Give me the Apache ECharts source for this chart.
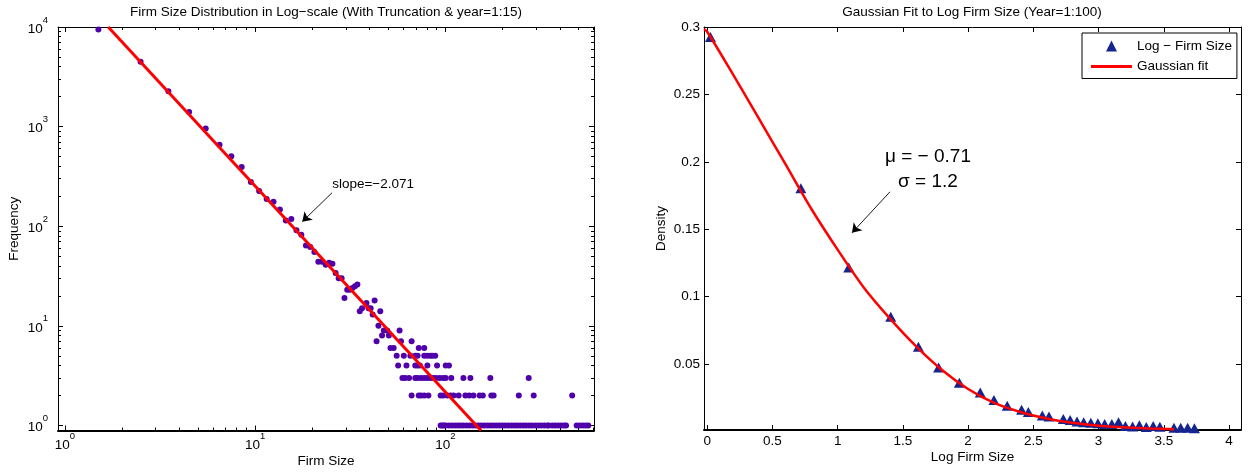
<!DOCTYPE html>
<html>
<head>
<meta charset="utf-8">
<script src="https://cdn.jsdelivr.net/npm/echarts@6/dist/echarts.min.js"></script>
<style>
html, body { margin: 0; padding: 0; background: #ffffff; }
#chart { width: 1248px; height: 474px; }
</style>
</head>
<body>
<div id="chart"></div>
<script>
// ---------------- Left panel data: firm size histogram (log-log) ----------------
const firmSize = [
  1.5, 2.5, 3.5, 4.5, 5.5, 6.5, 7.5, 8.5, 9.5, 10.5, 11.5, 12.5, 13.5, 14.5, 15.5, 16.5, 17.5, 18.5, 19.5, 20.5,
  21.5, 22.5, 23.5, 24.5, 25.5, 26.5, 27.5, 28.5, 29.5, 30.5, 31.5, 32.5, 33.5, 34.5, 35.5, 36.5, 38.5, 39.5, 40.5, 41.5,
  42.5, 43.5, 44.5, 45.5, 46.5, 47.5, 49.5, 50.5, 51.5, 53.5, 57.5, 58.5, 66.5,
  72.5, 77.5,
  55.5, 60.5, 65.5, 69.5, 71.5, 77.5, 80.5, 83.5, 85.5, 88.5,
  56.5, 62.5, 69.5, 71.5, 73.5, 80.5, 90.5, 100.5, 104.5,
  59.5, 61.5, 64.5, 69.5, 71.5, 74.5, 77.5, 80.5, 83.5, 86.5, 89.5, 93.5, 97.5, 100.5, 107.5, 124.5, 135.5, 172.5, 274.5,
  66.5, 72.5, 74.5, 77.5, 81.5, 94.5, 97.5, 102.5, 106.5, 110.5, 117.5, 127.5, 133.5, 140.5, 151.5, 157.5, 174.5, 179.5, 243.5, 291.5, 464.5,
  94.5, 96.5, 98.5, 100.5, 104.5, 108.5, 112.5, 116.5, 120.5, 124.5, 129.5, 134.5, 139.5, 144.5, 149.5, 154.5, 160.5, 166.5, 172.5, 178.5,
  185.5, 192.5, 199.5, 206.5, 214.5, 222.5, 230.5, 238.5, 247.5, 256.5, 265.5, 275.5, 285.5, 297.5, 308.5, 319.5, 331.5, 343.5, 350.5,
  365.5, 378.5, 392.5, 406.5, 420.5, 431.5, 490.5, 508.5, 527.5, 546.5, 564.5
];
const frequency = [
  9440, 4470, 2265, 1405, 955, 659, 503, 393, 278, 226, 188, 176, 147, 114, 118, 91, 82, 64, 62, 55,
  44, 44, 41, 43, 42, 34, 30, 30, 19, 23, 23, 24, 25, 26, 14, 15, 17, 15, 15, 13,
  18, 7, 10, 14, 8, 9, 9, 8, 6, 6, 9, 7, 7,
  6, 6,
  5, 5, 5, 5, 5, 5, 5, 5, 5, 5,
  4, 4, 4, 4, 4, 4, 4, 4, 4,
  3, 3, 3, 3, 3, 3, 3, 3, 3, 3, 3, 3, 3, 3, 3, 3, 3, 3, 3,
  2, 2, 2, 2, 2, 2, 2, 2, 2, 2, 2, 2, 2, 2, 2, 2, 2, 2, 2, 2, 2,
  1, 1, 1, 1, 1, 1, 1, 1, 1, 1, 1, 1, 1, 1, 1, 1, 1, 1, 1, 1,
  1, 1, 1, 1, 1, 1, 1, 1, 1, 1, 1, 1, 1, 1, 1, 1, 1, 1, 1,
  1, 1, 1, 1, 1, 1, 1, 1, 1, 1, 1
];
// fitted power-law line end points (slope = -2.071)
const fitLineX = [1.69, 154];
const fitLineY = [10000, 0.89];

const logMajorX = [1, 10, 100];
const logMinorX = [2, 3, 4, 5, 6, 7, 8, 9, 20, 30, 40, 50, 60, 70, 80, 90, 200, 300, 400, 500, 600];
const logMajorY = [1, 10, 100, 1000, 10000];
const logMinorY = [2, 3, 4, 5, 6, 7, 8, 9, 20, 30, 40, 50, 60, 70, 80, 90, 200, 300, 400, 500, 600, 700, 800, 900,
                   2000, 3000, 4000, 5000, 6000, 7000, 8000, 9000];

// ---------------- Right panel data: density of log firm size ----------------
const logFirmSize = [0.025, 0.718, 1.085, 1.407, 1.619, 1.774, 1.933, 2.093, 2.198, 2.30, 2.41, 2.462, 2.569, 2.62,
  2.73, 2.782, 2.835, 2.886, 2.941, 2.995, 3.047, 3.102, 3.153, 3.206, 3.261, 3.313, 3.366, 3.419, 3.47,
  3.578, 3.63, 3.683, 3.735];
const density = [0.2925, 0.1804, 0.1215, 0.085, 0.0627, 0.0473, 0.0361, 0.0289, 0.0233, 0.019, 0.016, 0.0143, 0.0117, 0.011,
  0.0092, 0.0084, 0.0073, 0.0068, 0.0064, 0.006, 0.0054, 0.0054, 0.0068, 0.0039, 0.0036, 0.0046, 0.0032, 0.0039, 0.0034,
  0.0027, 0.0026, 0.0026, 0.0023];
// Gaussian fit curve
const gaussX = [-0.0245, 0, 0.2, 0.4, 0.6, 0.8, 1.0, 1.2, 1.4, 1.6, 1.8, 2.0, 2.2, 2.4, 2.6, 2.8, 3.0, 3.2, 3.4, 3.58];
const gaussY = [0.2985, 0.2965, 0.2645, 0.2315, 0.1982, 0.1648, 0.1348, 0.1068, 0.0838, 0.0632, 0.0455, 0.0314, 0.0211, 0.0144, 0.0096, 0.0063, 0.0042, 0.0030, 0.0021, 0.0016];

const linTicksX = [0, 0.5, 1, 1.5, 2, 2.5, 3, 3.5, 4];
const linTicksY = [0.05, 0.1, 0.15, 0.2, 0.25, 0.3];

// ---------------- Annotation anchors (data coordinates) ----------------
const slopeText = 'slope=\u22122.071';
const slopeTextAt = [25.43, 261];
const slopeArrowFrom = [25.4, 217];
const slopeArrowTo = [17.7, 111];
const fitText = '\u03bc = \u2212 0.71\n\u03c3 = 1.2';
const fitTextAt = [1.6925, 0.1944];
const fitArrowFrom = [1.401, 0.1777];
const fitArrowTo = [1.11, 0.1473];

// ---------------- Styling ----------------
const FONT = "'Liberation Sans', Arial, Helvetica, sans-serif";
const BLACK = '#000000';
const FS = 13.5;
const DOT_COLOR = '#5000aa';
const TRI_COLOR = '#152590';
const FIT_COLOR = '#ff0000';

function powLabel(v) { return '{b|10}{s|' + Math.round(Math.log10(v)) + '}'; }
const powRich = {
  b: { fontFamily: FONT, fontSize: FS, color: BLACK, verticalAlign: 'bottom', lineHeight: 21 },
  s: { fontFamily: FONT, fontSize: 9.5, color: BLACK, verticalAlign: 'top' }
};

function baseAxis(type, grid, position, min, max) {
  return {
    type: type, gridIndex: grid, position: position, min: min, max: max,
    splitLine: { show: false },
    axisLine: { show: false, onZero: false },
    axisLabel: { show: false },
    axisTick: { show: false },
    axisPointer: { show: false },
    silent: true
  };
}
function withTicks(ax, values, len) {
  ax.axisTick = { show: true, inside: true, length: len, lineStyle: { color: BLACK, width: 1 }, customValues: values };
  return ax;
}
function withLine(ax, width) {
  ax.axisLine = { show: true, onZero: false, lineStyle: { color: BLACK, width: width } };
  return ax;
}

const LX = [0.92, 605], LY = [0.89, 10000];
const RX = [-0.0245, 4.092], RY = [0.001, 0.3];

// Left panel axes
const xL0 = withLine(withTicks(baseAxis('log', 0, 'bottom', LX[0], LX[1]), logMajorX, 5), 2);
xL0.axisLabel = { show: true, customValues: logMajorX, formatter: powLabel, rich: powRich, margin: 1 };
xL0.name = 'Firm Size'; xL0.nameLocation = 'middle'; xL0.nameGap = 23.5; xL0.nameMoveOverlap = false;
xL0.nameTextStyle = { fontFamily: FONT, fontSize: FS, color: BLACK };
const xL1 = withTicks(baseAxis('log', 0, 'bottom', LX[0], LX[1]), logMinorX, 3);
const xL2 = withLine(withTicks(baseAxis('log', 0, 'top', LX[0], LX[1]), logMajorX, 5), 1);
const xL3 = withTicks(baseAxis('log', 0, 'top', LX[0], LX[1]), logMinorX, 3);

const yL0 = withLine(withTicks(baseAxis('log', 0, 'left', LY[0], LY[1]), logMajorY, 5), 1);
yL0.axisLabel = { show: true, customValues: logMajorY, formatter: powLabel, rich: powRich, margin: 10, padding: [0, 0, 3, 0] };
yL0.name = 'Frequency'; yL0.nameLocation = 'middle'; yL0.nameGap = 36.5; yL0.nameRotate = 90; yL0.nameMoveOverlap = false;
yL0.nameTextStyle = { fontFamily: FONT, fontSize: FS, color: BLACK };
const yL1 = withTicks(baseAxis('log', 0, 'left', LY[0], LY[1]), logMinorY, 3);
const yL2 = withLine(withTicks(baseAxis('log', 0, 'right', LY[0], LY[1]), logMajorY, 5), 1);
const yL3 = withTicks(baseAxis('log', 0, 'right', LY[0], LY[1]), logMinorY, 3);

// Right panel axes
const xR0 = withLine(withTicks(baseAxis('value', 1, 'bottom', RX[0], RX[1]), linTicksX, 5), 2);
xR0.axisLabel = { show: true, customValues: linTicksX, margin: 4, fontFamily: FONT, fontSize: FS, color: BLACK };
xR0.name = 'Log Firm Size'; xR0.nameLocation = 'middle'; xR0.nameGap = 20.5; xR0.nameMoveOverlap = false;
xR0.nameTextStyle = { fontFamily: FONT, fontSize: FS, color: BLACK };
const xR1 = withLine(withTicks(baseAxis('value', 1, 'top', RX[0], RX[1]), linTicksX, 5), 1);

const yR0 = withLine(withTicks(baseAxis('value', 1, 'left', RY[0], RY[1]), linTicksY, 5), 1);
yR0.axisLabel = { show: true, customValues: linTicksY, margin: 4, fontFamily: FONT, fontSize: FS, color: BLACK };
yR0.name = 'Density'; yR0.nameLocation = 'middle'; yR0.nameGap = 36; yR0.nameRotate = 90; yR0.nameMoveOverlap = false;
yR0.nameTextStyle = { fontFamily: FONT, fontSize: FS, color: BLACK };
const yR1 = withLine(withTicks(baseAxis('value', 1, 'right', RY[0], RY[1]), linTicksY, 5), 1);

const option = {
  animation: false,
  backgroundColor: '#ffffff',
  title: [
    { text: 'Firm Size Distribution in Log\u2212scale (With Truncation & year=1:15)', left: 326, top: 5, padding: 0, textAlign: 'center',
      textStyle: { fontFamily: FONT, fontSize: FS, fontWeight: 'normal', color: BLACK } },
    { text: 'Gaussian Fit to Log Firm Size (Year=1:100)', left: 972, top: 5, padding: 0, textAlign: 'center',
      textStyle: { fontFamily: FONT, fontSize: FS, fontWeight: 'normal', color: BLACK } }
  ],
  legend: {
    data: [
      { name: 'Log \u2212 Firm Size', icon: 'path://M5,0 L10,10 L0,10 Z', itemStyle: { color: TRI_COLOR, opacity: 1 } },
      { name: 'Gaussian fit', icon: 'path://M0,0 L40,0 L40,3 L0,3 Z', itemStyle: { color: FIT_COLOR, opacity: 1 } }
    ],
    symbolKeepAspect: true,
    orient: 'vertical', left: 1082, top: 33, padding: [6, 5, 5, 9],
    itemWidth: 41, itemHeight: 11, itemGap: 6.5,
    borderColor: BLACK, borderWidth: 1, backgroundColor: '#ffffff',
    selectedMode: false,
    textStyle: { fontFamily: FONT, fontSize: FS, color: BLACK }
  },
  grid: [
    { left: 58, top: 27, width: 536, height: 403.5, containLabel: false, outerBoundsMode: 'none' },
    { left: 704, top: 27, width: 537, height: 403, containLabel: false, outerBoundsMode: 'none' }
  ],
  xAxis: [xL0, xL1, xL2, xL3, xR0, xR1],
  yAxis: [yL0, yL1, yL2, yL3, yR0, yR1],
  series: [
    {
      type: 'scatter', name: 'Firm Size', xAxisIndex: 0, yAxisIndex: 0,
      data: firmSize.map((x, i) => [x, frequency[i]]),
      symbol: 'circle', symbolSize: 6,
      itemStyle: { color: DOT_COLOR, opacity: 1 }, z: 2, silent: true
    },
    {
      type: 'line', name: 'Power-law fit', xAxisIndex: 0, yAxisIndex: 0,
      data: fitLineX.map((x, i) => [x, fitLineY[i]]),
      symbol: 'none', clip: true,
      lineStyle: { color: FIT_COLOR, width: 3 }, z: 3, silent: true,
      markLine: {
        silent: true, symbol: ['none', 'arrow'], symbolSize: 9,
        lineStyle: { color: BLACK, width: 0.9, type: 'solid' },
        label: { show: false },
        data: [[{ coord: slopeArrowFrom }, { coord: slopeArrowTo }]]
      },
      markPoint: {
        silent: true, symbol: 'circle', symbolSize: 0,
        label: { show: true, position: 'right', distance: 0, formatter: slopeText,
                 fontFamily: FONT, fontSize: FS, color: BLACK },
        data: [{ coord: slopeTextAt }]
      }
    },
    {
      type: 'scatter', name: 'Log \u2212 Firm Size', xAxisIndex: 4, yAxisIndex: 4,
      data: logFirmSize.map((x, i) => [x, density[i]]),
      symbol: 'triangle', symbolSize: [11, 10],
      itemStyle: { color: TRI_COLOR, opacity: 1 }, z: 2, silent: true
    },
    {
      type: 'line', name: 'Gaussian fit', xAxisIndex: 4, yAxisIndex: 4,
      data: gaussX.map((x, i) => [x, gaussY[i]]),
      symbol: 'none', showSymbol: false, smooth: 0.3, clip: true,
      lineStyle: { color: FIT_COLOR, width: 2.5 }, itemStyle: { color: FIT_COLOR }, z: 3, silent: true,
      markLine: {
        silent: true, symbol: ['none', 'arrow'], symbolSize: 9,
        lineStyle: { color: BLACK, width: 0.9, type: 'solid' },
        label: { show: false },
        data: [[{ coord: fitArrowFrom }, { coord: fitArrowTo }]]
      },
      markPoint: {
        silent: true, symbol: 'circle', symbolSize: 0,
        label: { show: true, position: 'inside', formatter: fitText, align: 'center',
                 fontFamily: FONT, fontSize: 19, lineHeight: 25, color: BLACK },
        data: [{ coord: fitTextAt }]
      }
    }
  ]
};

const chart = echarts.init(document.getElementById('chart'), null, { renderer: 'canvas' });
chart.setOption(option);
</script>
</body>
</html>
